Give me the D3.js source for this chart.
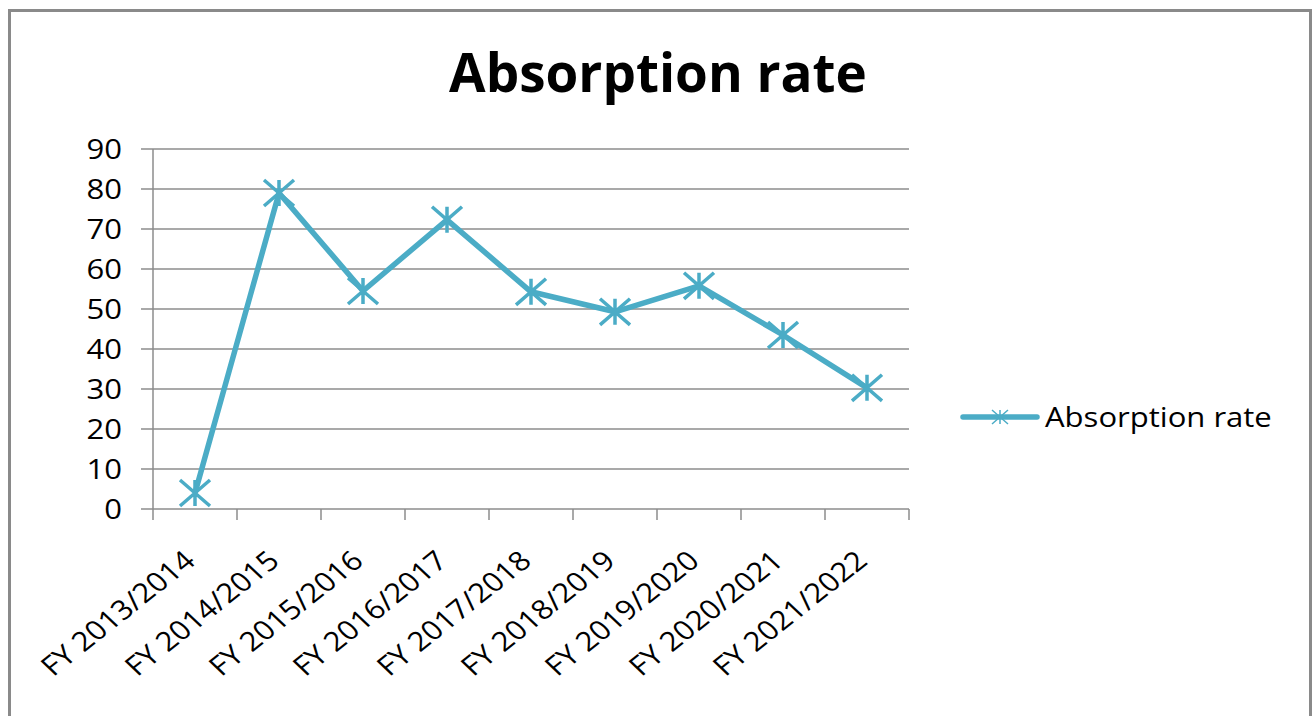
<!DOCTYPE html>
<html>
<head>
<meta charset="utf-8">
<script src="https://cdn.jsdelivr.net/npm/d3@7"></script>
<style>
  body { margin: 0; background: #fff; }
  text { font-family: "Open Sans", "Noto Sans", sans-serif; fill: #000; }
</style>
</head>
<body>
<div id="chart"></div>
<script>
// data
const categories = ["FY 2013/2014", "FY 2014/2015", "FY 2015/2016", "FY 2016/2017", "FY 2017/2018",
	"FY 2018/2019", "FY 2019/2020", "FY 2020/2021", "FY 2021/2022"];
const absorptionRate = [4, 79, 54.5, 72.3, 54.3, 49.3, 55.8, 43.5, 30.3];
const yTicks = [0, 10, 20, 30, 40, 50, 60, 70, 80, 90];
const seriesName = "Absorption rate";
const chartTitle = "Absorption rate";

const W = 1316, H = 716;
const plot = { left: 153, right: 909, top: 149, bottom: 509 };
const color = "#4bacc6";
const stretch = 1.15; // labels in the picture are a bit wide

const svg = d3.select("#chart").append("svg")
	.attr("width", W)
	.attr("height", H);

// frame (bottom edge runs off the picture)
svg.append("path")
	.attr("d", `M9.5,${H + 5} V10.5 H1310.5 V${H + 5}`)
	.attr("fill", "none")
	.attr("stroke", "#8a8a8a")
	.attr("stroke-width", 3);

// title
svg.append("text")
	.attr("x", 658)
	.attr("y", 92)
	.attr("text-anchor", "middle")
	.style("font-weight", "bold")
	.style("font-size", "53px")
	.text(chartTitle);

// scales
const x = d3.scaleBand()
	.domain(categories)
	.range([plot.left, plot.right]);

const y = d3.scaleLinear()
	.domain([0, 90])
	.range([plot.bottom, plot.top]);

// gridlines
svg.append("g")
	.selectAll("line")
	.data(yTicks)
	.join("line")
		.attr("x1", plot.left - 12)
		.attr("x2", plot.right)
		.attr("y1", d => y(d))
		.attr("y2", d => y(d))
		.attr("stroke", "#8c8c8c")
		.attr("stroke-width", 1.5);

// y axis line
svg.append("line")
	.attr("x1", plot.left).attr("x2", plot.left)
	.attr("y1", plot.top).attr("y2", plot.bottom)
	.attr("stroke", "#8c8c8c")
	.attr("stroke-width", 1.5);

// x axis tick marks at band edges
const edges = categories.map(c => x(c)).concat([plot.right]);
svg.append("g")
	.selectAll("line")
	.data(edges)
	.join("line")
		.attr("x1", d => d).attr("x2", d => d)
		.attr("y1", plot.bottom).attr("y2", plot.bottom + 11)
		.attr("stroke", "#8c8c8c")
		.attr("stroke-width", 1.5);

// y tick labels
svg.append("g")
	.selectAll("text")
	.data(yTicks)
	.join("text")
		.attr("transform", d => `translate(122,${y(d)}) scale(${stretch},1)`)
		.attr("dy", "0.36em")
		.attr("text-anchor", "end")
		.style("font-size", "27px")
		.text(d => d);

// x tick labels, slanted
svg.append("g")
	.selectAll("text")
	.data(categories)
	.join("text")
		.attr("transform", d => `translate(${x(d) + x.bandwidth() / 2 + 2},563) scale(${stretch},1) rotate(-42.4)`)
		.attr("text-anchor", "end")
		.style("font-size", "27px")
		.text(d => d);

// asterisk marker: vertical bar plus an X
const star = {
	draw(ctx, size) {
		const r = Math.sqrt(size) / 2;
		const h = r * 0.87;
		ctx.moveTo(0, -h); ctx.lineTo(0, h);
		ctx.moveTo(-r, -h); ctx.lineTo(r, h);
		ctx.moveTo(-r, h); ctx.lineTo(r, -h);
	}
};

const points = categories.map((c, i) => ({ cat: c, value: absorptionRate[i] }));

const line = d3.line()
	.x(d => x(d.cat) + x.bandwidth() / 2)
	.y(d => y(d.value));

svg.append("path")
	.datum(points)
	.attr("d", line)
	.attr("fill", "none")
	.attr("stroke", color)
	.attr("stroke-width", 5.5)
	.attr("stroke-linejoin", "round");

svg.append("g")
	.selectAll("path")
	.data(points)
	.join("path")
		.attr("transform", d => `translate(${x(d.cat) + x.bandwidth() / 2},${y(d.value)})`)
		.attr("d", d3.symbol().type(star).size(900))
		.attr("fill", "none")
		.attr("stroke", color)
		.attr("stroke-width", 3.5);

// legend
const legend = svg.append("g").attr("transform", "translate(963,417)");
legend.append("line")
	.attr("x1", 0).attr("x2", 74)
	.attr("stroke", color)
	.attr("stroke-width", 5.5)
	.attr("stroke-linecap", "round");
legend.append("path")
	.attr("transform", "translate(37,0)")
	.attr("d", d3.symbol().type(star).size(256))
	.attr("fill", "none")
	.attr("stroke", color)
	.attr("stroke-width", 1.5);
legend.append("text")
	.attr("transform", `translate(82,0) scale(${stretch},1)`)
	.attr("dy", "0.36em")
	.style("font-size", "27px")
	.text(seriesName);
</script>
</body>
</html>
